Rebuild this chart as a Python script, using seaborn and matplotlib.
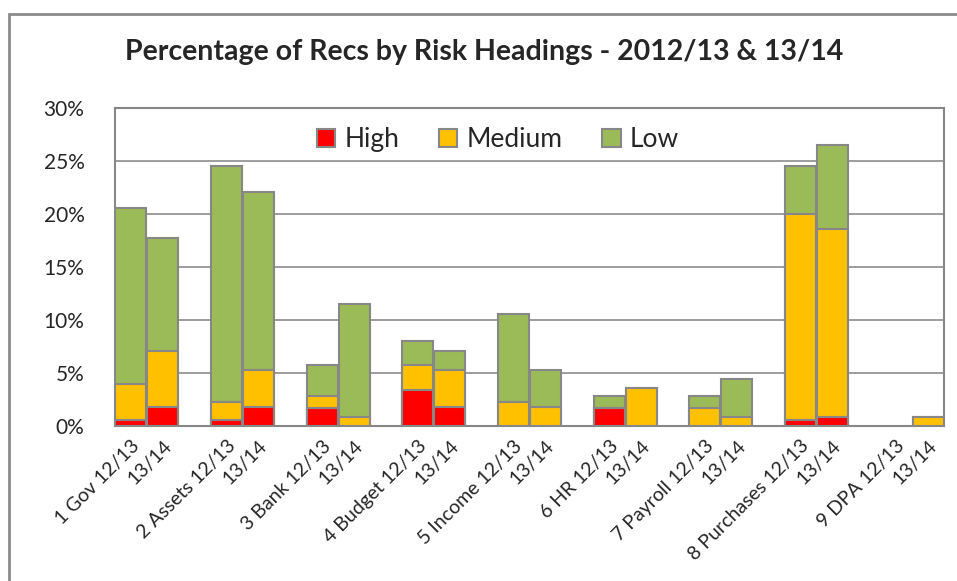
import numpy as np
import pandas as pd
import matplotlib
matplotlib.use("Agg")
import matplotlib.pyplot as plt
from matplotlib.patches import Rectangle
import seaborn as sns

# ── Data (percent of recommendations) ────────────────────────────────────────
headings = ["1 Gov", "2 Assets", "3 Bank", "4 Budget", "5 Income",
            "6 HR", "7 Payroll", "8 Purchases", "9 DPA"]
high_1213   = [0.57, 0.57, 1.71, 3.43, 0.0, 1.71, 0.0, 0.57, 0.0]
medium_1213 = [3.43, 1.71, 1.14, 2.29, 2.29, 0.0, 1.71, 19.43, 0.0]
low_1213    = [16.57, 22.29, 2.86, 2.29, 8.29, 1.14, 1.14, 4.57, 0.0]
high_1314   = [1.77, 1.77, 0.0, 1.77, 0.0, 0.0, 0.0, 0.88, 0.0]
medium_1314 = [5.31, 3.54, 0.88, 3.54, 1.77, 3.54, 0.88, 17.70, 0.88]
low_1314    = [10.62, 16.81, 10.62, 1.77, 3.54, 0.0, 3.54, 7.96, 0.0]

COLORS = {"High": "#FF0000", "Medium": "#FFC000", "Low": "#9BBB59"}
EDGE = "#878787"

# ── Build long table: two bars per heading, one empty slot between pairs ─────
rows = []
for i, h in enumerate(headings):
    for j, (yr, hi, me, lo) in enumerate([
            ("12/13", high_1213[i], medium_1213[i], low_1213[i]),
            ("13/14", high_1314[i], medium_1314[i], low_1314[i])]):
        rows.append({"pos": 3 * i + j,
                     "label": f"{h} {yr}" if j == 0 else yr,
                     "High": hi, "Medium": me, "Low": lo})
df = pd.DataFrame(rows)
df["cum_high"] = df["High"]
df["cum_med"] = df["High"] + df["Medium"]
df["cum_low"] = df["cum_med"] + df["Low"]

sns.set_theme(style="white")
plt.rcParams["font.family"] = ["Lato", "DejaVu Sans"]

fig = plt.figure(figsize=(9.57, 5.81), dpi=100)
ax = fig.add_axes([115 / 957, 1 - 426 / 581, 829 / 957, 318 / 581])

# draw tallest layer first, then overlay the lower layers
for col, name in [("cum_low", "Low"), ("cum_med", "Medium"), ("cum_high", "High")]:
    sub = df[df[col] > 0]
    sns.barplot(data=sub, x="pos", y=col, native_scale=True, width=0.97,
                color=COLORS[name], edgecolor=EDGE, linewidth=1.5,
                saturation=1, ax=ax, label=name, zorder=3)

ax.set_xlim(-0.5, 25.5)
ax.set_ylim(0, 30)
ax.set_yticks(np.arange(0, 31, 5))
ax.set_yticklabels([f"{v}%" for v in range(0, 31, 5)], fontsize=15)
ax.set_xticks(df["pos"])
ax.set_xticklabels(df["label"], rotation=45, ha="right",
                   rotation_mode="anchor", fontsize=14)
ax.tick_params(axis="y", length=0, pad=22)
ax.tick_params(axis="x", length=0, pad=8)
ax.set_xlabel("")
ax.set_ylabel("")
ax.yaxis.grid(True, color="#8C8C8C", linewidth=1.2, zorder=0)
ax.set_axisbelow(True)
for s in ax.spines.values():
    s.set_color(EDGE)
    s.set_linewidth(1.5)

handles, labels = ax.get_legend_handles_labels()
order = [labels.index(n) for n in ["High", "Medium", "Low"]]
ax.legend([handles[k] for k in order], ["High", "Medium", "Low"],
          loc="upper center", bbox_to_anchor=(0.462, 1.015), ncol=3,
          frameon=False, fontsize=19, handlelength=0.7, handleheight=0.7,
          handletextpad=0.35, columnspacing=1.5)

fig.text(0.506, 1 - 52 / 581, "Percentage of Recs by Risk Headings - 2012/13 & 13/14",
         ha="center", va="center", fontsize=20.5, fontweight="bold")

# outer chart border (top and left edges visible in the original)
fig.patches.append(Rectangle((9 / 957, -0.1), 1.2, 1 - 14 / 581 + 0.1,
                             transform=fig.transFigure, fill=False,
                             edgecolor="#8C8C8C", linewidth=2))

fig.savefig("out.png", dpi=100)
